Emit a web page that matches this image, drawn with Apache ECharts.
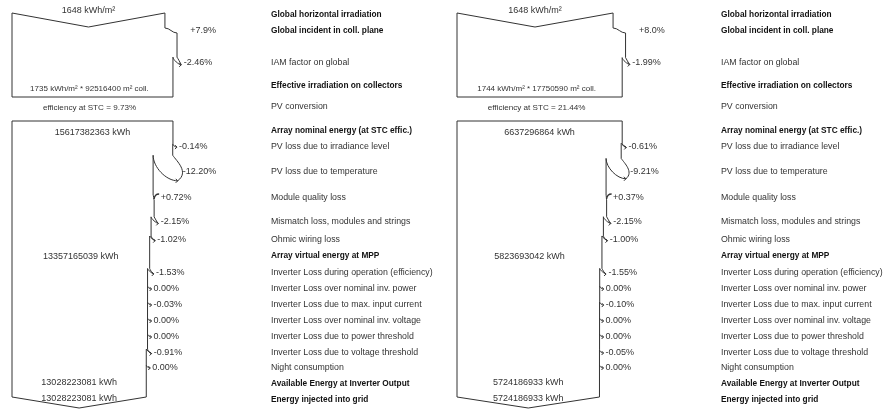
<!DOCTYPE html>
<html><head><meta charset="utf-8">
<script src="https://cdn.jsdelivr.net/npm/echarts@6/dist/echarts.min.js"></script>
<style>html,body{margin:0;padding:0;background:#fff}#c{width:885px;height:416px}</style>
</head><body><div id="c"></div>
<script>
// ---- step labels (shared) ----
const stepLabels = [
  'Global horizontal irradiation',
  'Global incident in coll. plane',
  'IAM factor on global',
  'Effective irradiation on collectors',
  'PV conversion',
  'Array nominal energy (at STC effic.)',
  'PV loss due to irradiance level',
  'PV loss due to temperature',
  'Module quality loss',
  'Mismatch loss, modules and strings',
  'Ohmic wiring loss',
  'Array virtual energy at MPP',
  'Inverter Loss during operation (efficiency)',
  'Inverter Loss over nominal inv. power',
  'Inverter Loss due to max. input current',
  'Inverter Loss over nominal inv. voltage',
  'Inverter Loss due to power threshold',
  'Inverter Loss due to voltage threshold',
  'Night consumption',
  'Available Energy at Inverter Output',
  'Energy injected into grid'
];
const stepBold = [1,1,0,1,0,1,0,0,0,0,0,1,0,0,0,0,0,0,0,1,1];

// ---- diagram A (left) ----
const pctA = ['', '+7.9%', '-2.46%', '', '', '', '-0.14%', '-12.20%', '+0.72%', '-2.15%', '-1.02%', '',
  '-1.53%', '0.00%', '-0.03%', '0.00%', '0.00%', '-0.91%', '0.00%', '', ''];
const ghiA = 1648, effIrrA = 1735, areaA = 92516400, stcEffA = '9.73';
const nominalA = 15617382363, mppA = 13357165039, availA = 13028223081, gridA = 13028223081;

// ---- diagram B (right) ----
const pctB = ['', '+8.0%', '-1.99%', '', '', '', '-0.61%', '-9.21%', '+0.37%', '-2.15%', '-1.00%', '',
  '-1.55%', '0.00%', '-0.10%', '0.00%', '0.00%', '-0.05%', '0.00%', '', ''];
const ghiB = 1648, effIrrB = 1744, areaB = 17750590, stcEffB = '21.44';
const nominalB = 6637296864, mppB = 5823693042, availB = 5724186933, gridB = 5724186933;

// ---- layout (positions/styles) ----
const rowY = [15, 31, 63, 86, 107, 131, 147, 172, 198, 222, 240, 256, 273, 289, 305, 321, 337, 353, 368, 384, 400];
const G = { top: 13, vTip: 27, ghiTextY: 11, b1Bottom: 97, effTextY: 89, stcTextY: 108, b2Top: 121,
  nomTextY: 133, mppTextY: 257, b2Bottom: 397, tipY: 408 };
const LA = { x0: 12, labelX: 271, k: 0.0928 };
const LB = { x0: 457, labelX: 721, k: 0.0947 };
const LINE = '#333';
const FONT = '"Liberation Sans", Arial, sans-serif';
const SZ = { label: 8.8, bold: 8.3, pct: 9, energy: 9, effIrr: 8, stc: 8.1 };

const A = { pct: pctA, ghi: ghiA, effIrr: effIrrA, area: areaA, stc: stcEffA, nominal: nominalA, mpp: mppA, avail: availA, grid: gridA };
const B = { pct: pctB, ghi: ghiB, effIrr: effIrrB, area: areaB, stc: stcEffB, nominal: nominalB, mpp: mppB, avail: availB, grid: gridB };

function buildDiagram(api, D, L) {
  const P = (x, y) => api.coord([x, y]);
  const f = (x, y) => { const p = P(x, y); return p[0].toFixed(2) + ' ' + p[1].toFixed(2); };
  const children = [];
  const addPath = (d, lw) => children.push({ type: 'path', shape: { pathData: d },
    style: { stroke: LINE, fill: 'none', lineWidth: lw || 1 } });
  const addText = (txt, x, y, align, size, bold, color) => {
    const p = P(x, y);
    children.push({ type: 'text', x: p[0], y: p[1], style: { text: txt, textAlign: align,
      textVerticalAlign: 'middle', font: (bold ? 'bold ' : '') + size + 'px ' + FONT, fill: color } });
  };
  const pcts = D.pct.map(s => s ? parseFloat(s) : null);
  const x0 = L.x0;
  let w = D.ghi * L.k;
  let R = x0 + w;
  let path = '';

  const step = (i) => {
    const p = pcts[i], y = rowY[i];
    if (p > 0) {
      const g = w * p / 100;
      path += ` L ${f(R, y - 3)} C ${f(R + 0.4 * g, y - 3)} ${f(R + 0.6 * g, y + 2)} ${f(R + g, y + 2)}`;
      if (g < 5) {
        addPath(`M ${f(R + g + 5, y - 4)} Q ${f(R + g + 0.5, y - 4)} ${f(R + g, y + 1)}`, 1.3);
      }
      addText(D.pct[i], R + g + 6 + 0.6 * g, y, 'left', SZ.pct, false, '#333');
      w += g; R += g;
    } else {
      const d = w * (-p) / 100;
      const s = 3 + 0.7 * d, ys = y - s;
      const tipX = R + 4 + 0.05 * d, tipY = y + 0.45 * d;
      path += ` L ${f(R, ys)}`;
      addPath(`M ${f(R, ys)} C ${f(R + 0.2 * d, ys + 0.3 * d)} ${f(R + Math.max(0.85 * d, 0.5), y)} ${f(tipX, tipY)}`);
      if (d > 0.4) {
        addPath(`M ${f(R - d, ys)} C ${f(R - d, ys + 0.6 * d)} ${f(tipX - 0.6 * d, tipY)} ${f(tipX, tipY)}`);
      }
      addPath(`M ${f(tipX - 2, tipY - 2)} L ${f(tipX, tipY)} L ${f(tipX - 2, tipY + 2)}`);
      addText(D.pct[i], R + 6 + 0.2 * d, y, 'left', SZ.pct, false, '#333');
      w -= d; R -= d;
      path += ` M ${f(R, ys)}`;
    }
  };

  // ---- box 1: irradiation ----
  addText(D.ghi + ' kWh/m²', x0 + w / 2, G.ghiTextY, 'center', SZ.energy, false, '#333');
  path = `M ${f(x0, G.b1Bottom)} L ${f(x0, G.top)} L ${f(x0 + w / 2, G.vTip)} L ${f(R, G.top)}`;
  step(1); step(2);
  path += ` L ${f(R, G.b1Bottom)} L ${f(x0, G.b1Bottom)}`;
  addPath(path);
  addText(D.effIrr + ' kWh/m² * ' + D.area + ' m² coll.', x0 + w / 2 - 3, G.effTextY, 'center', SZ.effIrr, false, '#333');
  addText('efficiency at STC = ' + D.stc + '%', x0 + w / 2 - 3, G.stcTextY, 'center', SZ.stc, false, '#333');

  // ---- box 2: energy ----
  path = `M ${f(x0, G.b2Bottom)} L ${f(x0, G.b2Top)} L ${f(R, G.b2Top)}`;
  addText(D.nominal + ' kWh', x0 + w / 2, G.nomTextY, 'center', SZ.energy, false, '#333');
  for (let i = 6; i <= 10; i++) step(i);
  addText(D.mpp + ' kWh', x0 + w / 2, G.mppTextY, 'center', SZ.energy, false, '#333');
  for (let i = 12; i <= 18; i++) step(i);
  path += ` L ${f(R, G.b2Bottom)} L ${f(x0 + w / 2, G.tipY)} L ${f(x0, G.b2Bottom)}`;
  addPath(path);
  addText(D.avail + ' kWh', x0 + w / 2, rowY[19] - 1, 'center', SZ.energy, false, '#333');
  addText(D.grid + ' kWh', x0 + w / 2, rowY[20] - 1, 'center', SZ.energy, false, '#333');

  // ---- step labels ----
  stepLabels.forEach((t, i) => {
    addText(t, L.labelX, rowY[i], 'left', stepBold[i] ? SZ.bold : SZ.label, !!stepBold[i], stepBold[i] ? '#111' : '#333');
  });
  return { type: 'group', children };
}

const chart = echarts.init(document.getElementById('c'), null, { renderer: 'canvas' });
const mk = (D, L) => ({ type: 'custom', coordinateSystem: 'cartesian2d', data: [[0, 0]], silent: true,
  animation: false, clip: false, renderItem: (params, api) => buildDiagram(api, D, L) });
chart.setOption({
  animation: false,
  backgroundColor: '#fff',
  grid: { left: 0, right: 0, top: 0, bottom: 0 },
  xAxis: { type: 'value', min: 0, max: 885, show: false },
  yAxis: { type: 'value', min: 0, max: 416, inverse: true, show: false },
  series: [mk(A, LA), mk(B, LB)]
});
</script></body></html>
